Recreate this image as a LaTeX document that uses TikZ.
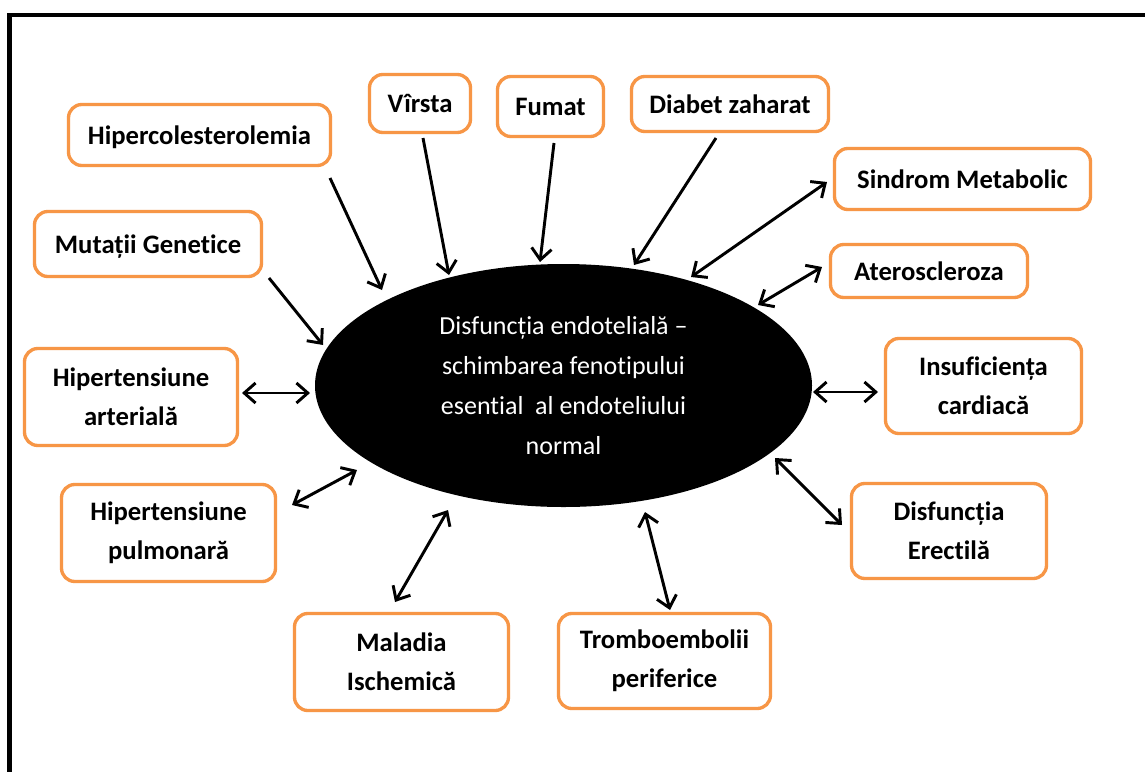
\documentclass[tikz,border=0pt]{standalone}
\usepackage{fontspec}
\setmainfont{Carlito}[Ligatures=NoCommon, Contextuals=NoAlternate]
\usetikzlibrary{arrows.meta,shapes.geometric}
\definecolor{boxorange}{HTML}{F79646}
\begin{document}
\begin{tikzpicture}[x=0.75pt,y=-0.75pt,
  box/.style={draw=boxorange, line width=2.5pt, rounded corners=10pt, fill=white,
    inner sep=0pt, font=\fontsize{20}{29}\selectfont\bfseries},
  oneline/.style={text height=14pt, text depth=0.5pt},
  twoline/.style={align=center},
  sz/.style 2 args={minimum width=#1*0.75pt, minimum height=#2*0.75pt},
  tipb/.tip={Straight Barb[length=8.5pt,width=15pt,line width=2.2pt]},
  oneway/.style={line width=2.2pt, -tipb},
  twoway/.style={line width=2.2pt, tipb-tipb},
  core/.style={ellipse, fill=black, inner sep=0pt, text=white, align=center,
    font=\fontsize{19.5}{30}\selectfont},
  frameline/.style={line width=3.2pt, line cap=rect}
]
\useasboundingbox (0,0) rectangle (1145,771);
\fill[white] (0,0) rectangle (1145,771);
\draw[frameline] (9.5,775) -- (9.5,15) -- (1150,15);

% central ellipse
\node[core, sz={497}{243}] (ell) at (563.5,385.5)
  {Disfuncția endotelială –\\schimbarea fenotipului\\esential~ al endoteliului\\normal};

% boxes
\node[box, oneline, sz={262}{61}] (hc) at (199.5,135) {Hipercolesterolemia};
\node[box, oneline, sz={101}{58}] (vi) at (420,103.5) {Vîrsta};
\node[box, oneline, sz={106}{60}] (fu) at (550.5,106.5) {Fumat};
\node[box, oneline, sz={197}{55}] (dz) at (730,104) {Diabet zaharat};
\node[box, oneline, sz={256}{61}] (sm) at (962.5,179) {Sindrom Metabolic};
\node[box, oneline, sz={227}{65}] (mg) at (148,244) {Mutații Genetice};
\node[box, oneline, sz={197}{53}] (at) at (929,271) {Ateroscleroza};
\node[box, twoline, sz={213}{97}] (ha) at (131,397) {Hipertensiune\\arterială};
\node[box, twoline, sz={196}{95}] (ic) at (983.5,386) {Insuficiența\\cardiacă};
\node[box, twoline, sz={214}{97}] (hp) at (168.5,533) {Hipertensiune\\pulmonară};
\node[box, twoline, sz={195}{95}] (de) at (949,531) {Disfuncția\\Erectilă};
\node[box, twoline, sz={214}{97}] (mi) at (401.5,662) {Maladia\\Ischemică};
\node[box, twoline, sz={212}{95}] (tp) at (664.5,661) {Tromboembolii\\periferice};

% connector end points (arrows stop short of the shapes)
\coordinate (hc1) at (330,178);  \coordinate (hc2) at (382,290);
\coordinate (vi1) at (423,138);  \coordinate (vi2) at (449,275);
\coordinate (fu1) at (554,143);  \coordinate (fu2) at (540,262);
\coordinate (dz1) at (716,138);  \coordinate (dz2) at (634,265);
\coordinate (sm1) at (827,182);  \coordinate (sm2) at (691,277);
\coordinate (mg1) at (269,278);  \coordinate (mg2) at (323,345);
\coordinate (at1) at (822,267);  \coordinate (at2) at (758,305);
\coordinate (ha1) at (242,393);  \coordinate (ha2) at (310,393);
\coordinate (ic1) at (878,392);  \coordinate (ic2) at (813,392);
\coordinate (de1) at (842,525);  \coordinate (de2) at (775,458);
\coordinate (hp1) at (292,505);  \coordinate (hp2) at (357,470);
\coordinate (mi1) at (395,602);  \coordinate (mi2) at (448,510);
\coordinate (tp1) at (670,610);  \coordinate (tp2) at (645,512);

% one-way causes
\draw[oneway] (hc1) -- (hc2);
\draw[oneway] (vi1) -- (vi2);
\draw[oneway] (fu1) -- (fu2);
\draw[oneway] (dz1) -- (dz2);
\draw[oneway] (mg1) -- (mg2);
% two-way relations
\draw[twoway] (sm1) -- (sm2);
\draw[twoway] (at1) -- (at2);
\draw[twoway] (ha1) -- (ha2);
\draw[twoway] (ic1) -- (ic2);
\draw[twoway] (de1) -- (de2);
\draw[twoway] (hp1) -- (hp2);
\draw[twoway] (mi1) -- (mi2);
\draw[twoway] (tp1) -- (tp2);
\end{tikzpicture}
\end{document}
